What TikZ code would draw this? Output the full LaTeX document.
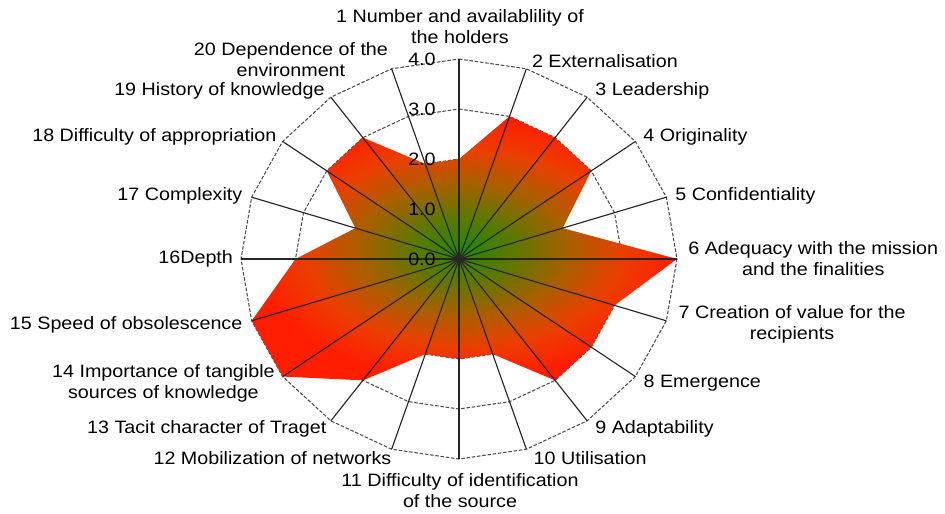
\documentclass[tikz,border=0pt]{standalone}
\usepackage{fontspec}
\setmainfont{Liberation Sans}[FakeStretch=1.1]

\definecolor{radargreen}{RGB}{35,135,0}
\definecolor{radarolive}{RGB}{95,120,0}
\definecolor{radarmid}{RGB}{170,95,0}
\definecolor{radarorange}{RGB}{235,62,0}
\definecolor{radarred}{RGB}{255,30,0}
\pgfdeclareradialshading{radarshade}{\pgfpoint{0bp}{0bp}}{color(0bp)=(radargreen); color(6.25bp)=(radarolive); color(12.5bp)=(radarmid); color(18.75bp)=(radarorange); color(25bp)=(radarred); color(50bp)=(radarred)}

\tikzset{
  ring/.style={dash pattern=on 2pt off 1pt, gray!60!black, line width=0.6pt},
  spoke/.style={black!85, line width=0.65pt},
  lbl/.style={inner sep=0pt, font=\fontsize{10.2}{12}\selectfont, align=center},
  ticklbl/.style={inner sep=0pt, anchor=east, font=\fontsize{10.2}{12}\selectfont}
}

\begin{document}
\begin{tikzpicture}[x=0.02cm, y=-0.02cm]
\useasboundingbox (0,0) rectangle (945,513);
\coordinate (o) at (459,259);

% axis ends and data points
\foreach \k in {1,...,20}
  \coordinate (a\k) at ({459+218*sin(18*(\k-1))}, {259-200*cos(18*(\k-1))});
\foreach \v [count=\k] in {2,3,3,3,2,4,3,3,3,2,2,2,3,4,4,3,2,3,3,2}
  \coordinate (d\k) at ({459+54.5*\v*sin(18*(\k-1))}, {259-50*\v*cos(18*(\k-1))});

% rings
\foreach \v in {1,...,4}
  \draw[ring] plot[samples at={0,18,...,342}] ({459+54.5*\v*sin(\x)}, {259-50*\v*cos(\x)}) -- cycle;

\shade[shading=radarshade] (d1) \foreach \k in {2,...,20}{ -- (d\k)} -- cycle;

\foreach \k in {1,...,20}
  \draw[spoke] (o) -- (a\k);

\foreach \v in {0,...,4}
  \node[ticklbl] (t\v) at (436,{259-50*\v}) {\v.0};

\node[lbl] (l1) at (460,26.5) {1 Number and availablility of\\the holders};
\node[lbl, anchor=west] (l2) at (531.7,61) {2 Externalisation};
\node[lbl, anchor=west] (l3) at (595,90.7) {3 Leadership};
\node[lbl, anchor=west] (l4) at (643,136.7) {4 Originality};
\node[lbl, anchor=west] (l5) at (675,196) {5 Confidentiality};
\node[lbl, anchor=west] (l6) at (688,258.5) {6 Adequacy with the mission\\and the finalities};
\node[lbl, anchor=west] (l7) at (678.3,324) {7 Creation of value for the\\recipients};
\node[lbl, anchor=west] (l8) at (643.3,383.3) {8 Emergence};
\node[lbl, anchor=west] (l9) at (595,429.3) {9 Adaptability};
\node[lbl, anchor=west] (l10) at (533.3,458.3) {10 Utilisation};
\node[lbl] (l11) at (460,490.5) {11 Difficulty of identification\\of the source};
\node[lbl, anchor=east] (l12) at (391.7,458.3) {12 Mobilization of networks};
\node[lbl, anchor=east] (l13) at (326.7,429.3) {13 Tacit character of Traget};
\node[lbl, anchor=east] (l14) at (275,383) {14 Importance of tangible\\sources of knowledge};
\node[lbl, anchor=east] (l15) at (242.7,325) {15 Speed of obsolescence};
\node[lbl, anchor=east] (l16) at (233.3,259) {16Depth};
\node[lbl, anchor=east] (l17) at (242.7,196) {17 Complexity};
\node[lbl, anchor=east] (l18) at (276.7,136.7) {18 Difficulty of appropriation};
\node[lbl, anchor=east] (l19) at (325,90.7) {19 History of knowledge};
\node[lbl, anchor=east] (l20) at (388.3,59.7) {20 Dependence of the\\environment};
\end{tikzpicture}
\end{document}
